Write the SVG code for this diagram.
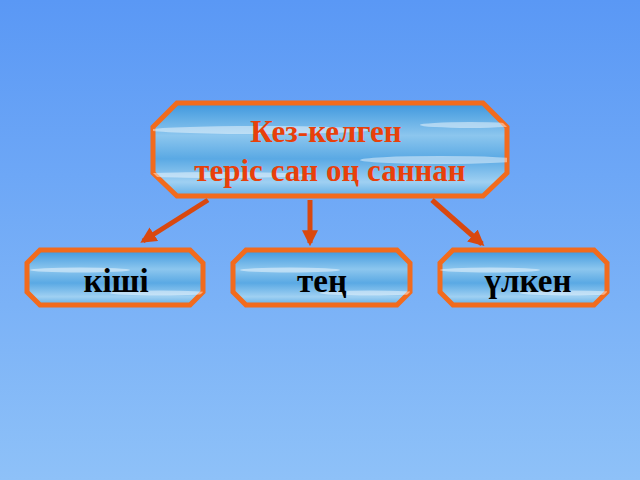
<svg xmlns="http://www.w3.org/2000/svg" width="640" height="480" viewBox="0 0 640 480">
<defs>
<linearGradient id="bg" x1="0" y1="0" x2="0" y2="1">
<stop offset="0" stop-color="#5a98f5"/>
<stop offset="1" stop-color="#8ec1f8"/>
</linearGradient>
<linearGradient id="sky" x1="0" y1="0" x2="0" y2="1">
<stop offset="0" stop-color="#3d97de"/>
<stop offset="0.35" stop-color="#8cc6ee"/>
<stop offset="0.6" stop-color="#5aa9e4"/>
<stop offset="0.85" stop-color="#9fd0f2"/>
<stop offset="1" stop-color="#62aee6"/>
</linearGradient>
<marker id="ah" viewBox="0 0 10 10" refX="8" refY="5" markerWidth="3.2" markerHeight="3.2" orient="auto" markerUnits="strokeWidth">
<path d="M0,0 L10,5 L0,10 z" fill="#d9480f"/>
</marker>
<clipPath id="cTop"><polygon points="177,103 483,103 507,127 507,173 483,196 177,196 153,173 153,127"/></clipPath>
<clipPath id="cL"><polygon points="40,250 190,250 203,263 203,292 190,305 40,305 27,292 27,263"/></clipPath>
<clipPath id="cM"><polygon points="246,250 397,250 410,263 410,292 397,305 246,305 233,292 233,263"/></clipPath>
<clipPath id="cR"><polygon points="453,250 594,250 607,263 607,292 594,305 453,305 440,292 440,263"/></clipPath>
</defs>
<style>
.box{fill:url(#sky);stroke:#f26b1d;stroke-width:5;stroke-linejoin:miter}
.streak{fill:#ffffff;opacity:0.45}
.conn{stroke:#d9480f;stroke-width:5;fill:none;marker-end:url(#ah)}
.t1{font-family:"Liberation Serif","Times New Roman",serif;font-weight:bold;font-size:31px;fill:#e8400a;text-anchor:middle}
.t2{font-family:"Liberation Serif","Times New Roman",serif;font-weight:bold;font-size:33px;fill:#000;text-anchor:middle}
</style>
<rect x="0" y="0" width="640" height="480" fill="url(#bg)"/>
<g id="connectors">
<line class="conn" x1="208" y1="200" x2="143" y2="241"/>
<line class="conn" x1="310" y1="200" x2="310" y2="243"/>
<line class="conn" x1="432" y1="200" x2="482" y2="244"/>
</g>
<g id="top">
<polygon class="box" points="177,103 483,103 507,127 507,173 483,196 177,196 153,173 153,127"/>
<g clip-path="url(#cTop)">
<ellipse class="streak" cx="260" cy="130" rx="110" ry="4"/>
<ellipse class="streak" cx="440" cy="160" rx="80" ry="4"/>
<ellipse class="streak" cx="470" cy="125" rx="50" ry="3"/>
<ellipse class="streak" cx="220" cy="175" rx="90" ry="3"/>
</g>
<text class="t1" x="326" y="142">Кез-келген</text>
<text class="t1" x="330" y="181">теріс сан оң саннан</text>
</g>
<g id="kishi">
<polygon class="box" points="40,250 190,250 203,263 203,292 190,305 40,305 27,292 27,263"/>
<g clip-path="url(#cL)">
<ellipse class="streak" cx="80" cy="270" rx="50" ry="2.5"/>
<ellipse class="streak" cx="160" cy="293" rx="50" ry="2.5"/>
</g>
<text class="t2" x="116" y="292">кіші</text>
</g>
<g id="teng">
<polygon class="box" points="246,250 397,250 410,263 410,292 397,305 246,305 233,292 233,263"/>
<g clip-path="url(#cM)">
<ellipse class="streak" cx="290" cy="270" rx="50" ry="2.5"/>
<ellipse class="streak" cx="370" cy="293" rx="50" ry="2.5"/>
</g>
<text class="t2" x="322" y="292">тең</text>
</g>
<g id="ulken">
<polygon class="box" points="453,250 594,250 607,263 607,292 594,305 453,305 440,292 440,263"/>
<g clip-path="url(#cR)">
<ellipse class="streak" cx="490" cy="270" rx="50" ry="2.5"/>
<ellipse class="streak" cx="570" cy="293" rx="50" ry="2.5"/>
</g>
<text class="t2" x="528" y="292">үлкен</text>
</g>
</svg>
